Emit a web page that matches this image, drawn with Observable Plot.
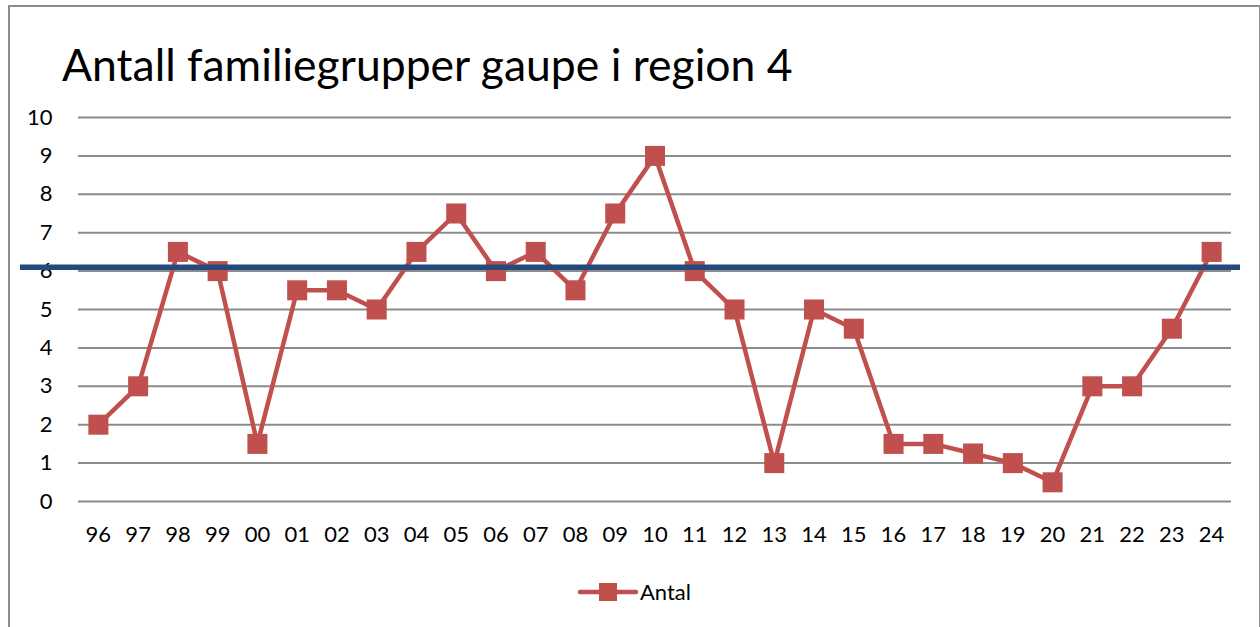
<!DOCTYPE html>
<html>
<head>
<meta charset="utf-8">
<script src="https://cdn.jsdelivr.net/npm/d3@7"></script>
<script src="https://cdn.jsdelivr.net/npm/@observablehq/plot@0.6"></script>
<style>
  html, body { margin: 0; padding: 0; background: #fff; }
  #wrap { position: relative; width: 1260px; height: 627px; overflow: hidden; font-family: Lato, "Open Sans", sans-serif; }
  #frame { position: absolute; left: 8px; top: 5px; width: 1249px; height: 640px; border: 2px solid #8c8c8c; border-bottom: none; }
  #title { position: absolute; left: 62px; top: 42px; font-size: 44.5px; color: #000; white-space: nowrap; line-height: 1; }
  #chart { position: absolute; left: 0; top: 100px; }
  #legend { position: absolute; left: 578px; top: 578px; display: flex; align-items: center; font-size: 22px; color: #000; }
</style>
</head>
<body>
<div id="wrap">
  <div id="frame"></div>
  <div id="title"></div>
  <div id="chart"></div>
  <div id="legend"></div>
</div>
<script>
const titleText = "Antall familiegrupper gaupe i region 4";
const years = ["96","97","98","99","00","01","02","03","04","05","06","07","08","09","10","11","12","13","14","15","16","17","18","19","20","21","22","23","24"];
const antal = [2,3,6.5,6,1.5,5.5,5.5,5,6.5,7.5,6,6.5,5.5,7.5,9,6,5,1,5,4.5,1.5,1.5,1.25,1,0.5,3,3,4.5,6.5];
const seriesName = "Antal";
const referenceLevel = 6.1;
const yTicks = [0,1,2,3,4,5,6,7,8,9,10];

const red = "#c0504d";
const blue = "#244a7c";

const data = years.map((y, i) => ({year: y, value: antal[i]}));

document.getElementById("title").textContent = titleText;

const chart = Plot.plot({
  width: 1260,
  height: 460,
  marginLeft: 78,
  marginRight: 29,
  marginTop: 17,
  marginBottom: 59,
  style: {fontFamily: "Lato, 'Open Sans', sans-serif", fontSize: "22px", color: "#000", background: "transparent"},
  x: {type: "point", domain: years, padding: 0.5, align: 0.5, round: false, label: null},
  y: {domain: [0, 10], ticks: yTicks, label: null},
  marks: [
    Plot.gridY(yTicks, {stroke: "#8c8c8c", strokeOpacity: 1, strokeWidth: 2}),
    Plot.axisY(yTicks, {tickSize: 0, tickPadding: 26, fontSize: 22, label: null}),
    Plot.axisX({tickSize: 0, tickPadding: 25, fontSize: 22, label: null}),
    Plot.line(data, {x: "year", y: "value", stroke: red, strokeWidth: 4.5, strokeLinejoin: "round"}),
    Plot.dot(data, {x: "year", y: "value", symbol: "square", r: 11.3, fill: red, stroke: null}),
    Plot.ruleY([referenceLevel], {stroke: blue, strokeWidth: 5.5, insetLeft: -58, insetRight: -9})
  ]
});
document.getElementById("chart").appendChild(chart);

const legend = document.getElementById("legend");
legend.innerHTML = `<svg width="60" height="24" style="margin-right:2px">
  <line x1="2" y1="12" x2="58" y2="12" stroke="${red}" stroke-width="4.5" stroke-linecap="round"></line>
  <rect x="21" y="3" width="18" height="18" fill="${red}"></rect>
</svg><span>${seriesName}</span>`;
</script>
</body>
</html>
